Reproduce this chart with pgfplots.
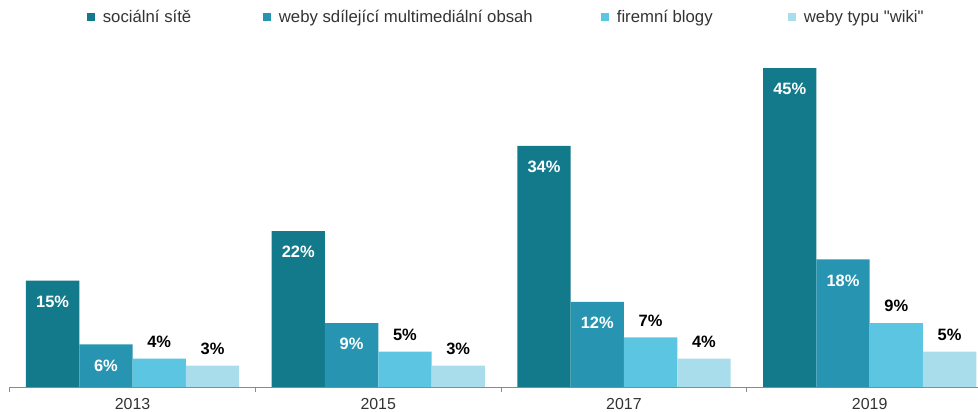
\documentclass[border=0pt]{standalone}
\usepackage{pgfplots}
\pgfplotsset{compat=1.18}
\usepackage{fontspec}
\setmainfont{Liberation Sans}
\definecolor{c1}{HTML}{137A8B}
\definecolor{c2}{HTML}{2795B1}
\definecolor{c3}{HTML}{5CC6E2}
\definecolor{c4}{HTML}{A9DDEC}
\definecolor{axgray}{HTML}{8A8A8A}
\definecolor{txt}{HTML}{333333}
\begin{document}
\begin{tikzpicture}
\useasboundingbox (0,0) rectangle (978bp,412bp);
\begin{axis}[
  at={(9.7bp,25bp)}, anchor=south west,
  scale only axis, width=968.3bp, height=336bp,
  xmin=-0.5, xmax=3.441, ymin=0, ymax=47.4,
  ybar=0pt, bar width=53.3bp,
  axis x line*=bottom, axis y line=none,
  x axis line style={axgray, line width=1bp, -},
  xtick={0,1,2,3}, xticklabels={2013,2015,2017,2019},
  major tick length=0pt,
  minor xtick={-0.5,0.5,1.5,2.5},
  minor tick length=5bp,
  tick align=outside,
  minor tick style={axgray, line width=1bp},
  x tick label style={font=\fontsize{16}{18}\selectfont, text=txt, yshift=-8bp},
  nodes near coords={\pgfmathprintnumber[assume math mode=true]{\pgfplotspointmeta}\%},
  nodes near coords style={font=\bfseries\fontsize{16.5}{18}\selectfont, anchor=center},
  legend columns=4,
  legend style={draw=none, fill=none, at={(0.0795,1.101)}, anchor=west,
    font=\fontsize{16.8}{18}\selectfont, text=txt,
    nodes={inner sep=0pt},
    /tikz/every odd column/.style={column sep=8bp},
    /tikz/every even column/.style={column sep=0bp},
    inner sep=0pt},
  legend image code/.code={\fill[#1] (0bp,-4bp) rectangle (8bp,4bp);},
]
\addplot[fill=c1, draw=none, nodes near coords style={white, yshift=-21bp}] coordinates {(0,15) (1,22) (2,34) (3,45)};
\addlegendentry{\makebox[160bp][l]{sociální sítě}}
\addplot[fill=c2, draw=none, nodes near coords style={white, yshift=-21bp}] coordinates {(0,6) (1,9) (2,12) (3,18)};
\addlegendentry{\makebox[322bp][l]{weby sdílející multimediální obsah}}
\addplot[fill=c3, draw=none, nodes near coords style={black, yshift=17bp}] coordinates {(0,4) (1,5) (2,7) (3,9)};
\addlegendentry{\makebox[171bp][l]{firemní blogy}}
\addplot[fill=c4, draw=none, nodes near coords style={black, yshift=17bp}] coordinates {(0,3) (1,3) (2,4) (3,5)};
\addlegendentry{weby typu \textquotedbl wiki\textquotedbl}
\end{axis}
\end{tikzpicture}
\end{document}
